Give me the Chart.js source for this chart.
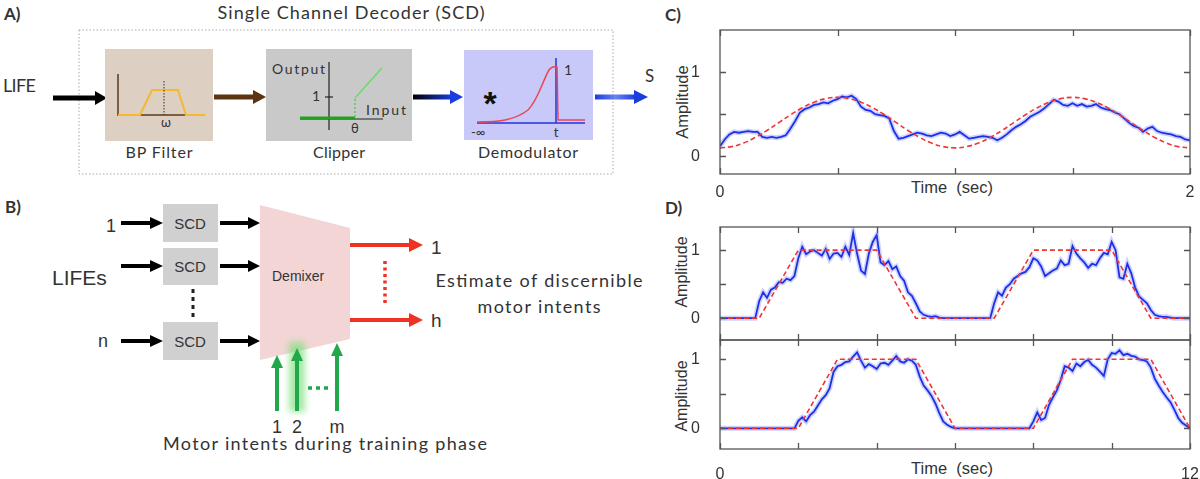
<!DOCTYPE html>
<html>
<head>
<meta charset="utf-8">
<script src="https://cdn.jsdelivr.net/npm/chart.js"></script>
<style>
  body { margin: 0; background: #fff; width: 1200px; height: 479px; overflow: hidden; position: relative; font-family: "Liberation Sans", Arial, sans-serif; }
  canvas { position: absolute; }
  .lbl { position: absolute; color: #333; white-space: nowrap; transform: translate(-50%, -50%); }
  .rot { transform: translate(-50%, -50%) rotate(-90deg); }
  svg text { fill: #333; }
</style>
</head>
<body>

<!-- Panels A and B: block diagrams -->
<svg width="660" height="479" style="position:absolute;left:0;top:0" font-family="Lato, sans-serif">
  <defs>
    <linearGradient id="blk2blu" gradientUnits="userSpaceOnUse" x1="413" y1="0" x2="452" y2="0"><stop offset="0" stop-color="#000"/><stop offset="1" stop-color="#1a3de0"/></linearGradient>
    <linearGradient id="bluOut" gradientUnits="userSpaceOnUse" x1="595" y1="0" x2="636" y2="0"><stop offset="0" stop-color="#1a3de0"/><stop offset="0.5" stop-color="#6a82f0"/><stop offset="1" stop-color="#1a3de0"/></linearGradient>
    <filter id="glow" x="-1" y="-1" width="3" height="3"><feGaussianBlur stdDeviation="3"/></filter>
  </defs>

  <text x="4" y="20" font-weight="bold" font-size="17">A)</text>
  <text x="351" y="19" text-anchor="middle" font-size="18" textLength="267">Single Channel Decoder (SCD)</text>
  <rect x="79" y="30" width="534" height="144" fill="none" stroke="#aaa" stroke-width="1" stroke-dasharray="1.5,2"/>

  <text x="3" y="92" font-size="18" textLength="33">LIFE</text>
  <line x1="53" y1="98" x2="97" y2="98" stroke="#000" stroke-width="5"/>
  <polygon points="95,91 107,98 95,105" fill="#000"/>

  <!-- BP filter -->
  <rect x="105" y="49" width="108" height="92" fill="#ddd0c3"/>
  <line x1="118" y1="74" x2="118" y2="116" stroke="#5a3a1a" stroke-width="1.5"/>
  <line x1="118" y1="115" x2="205" y2="115" stroke="#5a3a1a" stroke-width="1.5"/>
  <polyline points="118,115 140,115 152,90 178,90 186,115 205,115" fill="none" stroke="#f5b82e" stroke-width="2"/>
  <line x1="164" y1="81" x2="164" y2="115" stroke="#333" stroke-width="1" stroke-dasharray="1.5,1.5"/>
  <text x="166" y="127" text-anchor="middle" font-size="13">ω</text>
  <text x="159" y="158" text-anchor="middle" font-size="16" textLength="67">BP Filter</text>

  <line x1="214" y1="97" x2="255" y2="97" stroke="#5a3510" stroke-width="5"/>
  <polygon points="253,90 266,97 253,104" fill="#5a3510"/>

  <!-- Clipper -->
  <rect x="266" y="49" width="146" height="92" fill="#c9c9c9"/>
  <text x="272" y="74" font-size="14" textLength="53">Output</text>
  <line x1="329" y1="62" x2="329" y2="130" stroke="#222" stroke-width="1.2"/>
  <line x1="325" y1="97" x2="333" y2="97" stroke="#222" stroke-width="1.2"/>
  <text x="320" y="101" text-anchor="end" font-size="14">1</text>
  <line x1="300" y1="119" x2="383" y2="119" stroke="#222" stroke-width="1.2"/>
  <line x1="300" y1="118" x2="355" y2="118" stroke="#1fa31f" stroke-width="3"/>
  <line x1="355" y1="117" x2="355" y2="98" stroke="#55cc55" stroke-width="1.5" stroke-dasharray="2,2"/>
  <line x1="355" y1="98" x2="382" y2="68" stroke="#66dd66" stroke-width="1.5"/>
  <text x="366" y="115" font-size="14" textLength="40">Input</text>
  <text x="355" y="133" text-anchor="middle" font-size="13">θ</text>
  <text x="339" y="158" text-anchor="middle" font-size="16" textLength="52">Clipper</text>

  <line x1="413" y1="97" x2="452" y2="97" stroke="url(#blk2blu)" stroke-width="5"/>
  <polygon points="450,90 463,97 450,104" fill="#1a3de0"/>

  <!-- Demodulator -->
  <rect x="464" y="50" width="129" height="90" fill="#c8c9f9"/>
  <text x="490" y="115" text-anchor="middle" font-family="Liberation Sans, Arial, sans-serif" font-size="34" font-weight="bold" style="fill:#111">*</text>
  <line x1="477" y1="123" x2="585" y2="123" stroke="#2233dd" stroke-width="1.5"/>
  <line x1="556" y1="58" x2="556" y2="123" stroke="#2233dd" stroke-width="1.5"/>
  <path d="M477,122 C500,122 515,120 528,110 C538,100 543,80 549,70 C551,67 553,66 557,67 L558,120 L585,120" fill="none" stroke="#ee4455" stroke-width="1.5"/>
  <text x="564" y="75" font-size="14">1</text>
  <text x="471" y="137" font-size="13">-∞</text>
  <text x="556" y="137" text-anchor="middle" font-size="13">t</text>
  <text x="528" y="158" text-anchor="middle" font-size="16" textLength="100">Demodulator</text>

  <line x1="595" y1="97" x2="636" y2="97" stroke="url(#bluOut)" stroke-width="5"/>
  <polygon points="634,90 648,97 634,104" fill="#1a3de0"/>
  <text x="645" y="82" font-size="17">S</text>

  <!-- Panel B -->
  <text x="5" y="213" font-weight="bold" font-size="17">B)</text>
  <g font-family="Liberation Sans, Arial, sans-serif">
    <text x="116" y="232" text-anchor="end" font-size="18">1</text>
    <text x="52" y="285" font-size="21">LIFEs</text>
    <text x="108" y="347" text-anchor="end" font-size="18">n</text>

    <g fill="#000">
      <line x1="121" y1="223" x2="152" y2="223" stroke="#000" stroke-width="4"/>
      <polygon points="150,217 163,223 150,229"/>
      <line x1="121" y1="266" x2="152" y2="266" stroke="#000" stroke-width="4"/>
      <polygon points="150,260 163,266 150,272"/>
      <line x1="121" y1="341" x2="152" y2="341" stroke="#000" stroke-width="4"/>
      <polygon points="150,335 163,341 150,347"/>

      <line x1="220" y1="223" x2="250" y2="223" stroke="#000" stroke-width="4"/>
      <polygon points="248,217 260,223 248,229"/>
      <line x1="220" y1="266" x2="250" y2="266" stroke="#000" stroke-width="4"/>
      <polygon points="248,260 260,266 248,272"/>
      <line x1="220" y1="341" x2="250" y2="341" stroke="#000" stroke-width="4"/>
      <polygon points="248,335 260,341 248,347"/>
    </g>

    <rect x="163" y="204" width="55" height="38" fill="#d0d0d0"/>
    <rect x="163" y="248" width="55" height="37" fill="#d0d0d0"/>
    <rect x="163" y="322" width="55" height="38" fill="#d0d0d0"/>
    <text x="190" y="229" text-anchor="middle" font-size="15">SCD</text>
    <text x="190" y="272" text-anchor="middle" font-size="15">SCD</text>
    <text x="190" y="347" text-anchor="middle" font-size="15">SCD</text>
    <g fill="#222">
      <rect x="191.5" y="289" width="3" height="4"/>
      <rect x="191.5" y="297" width="3" height="4"/>
      <rect x="191.5" y="305" width="3" height="4"/>
      <rect x="191.5" y="313" width="3" height="4"/>
    </g>

    <polygon points="260,205 350,228 350,339 260,360" fill="#f3d5d5"/>
    <text x="272" y="281" font-size="14">Demixer</text>

    <!-- training inputs -->
    <rect x="289" y="342" width="16" height="70" fill="#7fe07f" opacity="0.7" filter="url(#glow)"/>
    <line x1="277" y1="411" x2="277" y2="366" stroke="#22a84a" stroke-width="4"/>
    <polygon points="271,368 277,355 283,368" fill="#22a84a"/>
    <line x1="297" y1="411" x2="297" y2="359" stroke="#22a84a" stroke-width="4"/>
    <polygon points="291,361 297,348 303,361" fill="#22a84a"/>
    <line x1="337" y1="411" x2="337" y2="354" stroke="#22a84a" stroke-width="4"/>
    <polygon points="331,356 337,343 343,356" fill="#22a84a"/>
    <line x1="308" y1="388" x2="328" y2="388" stroke="#22a84a" stroke-width="3.5" stroke-dasharray="4,4"/>
    <text x="277" y="433" text-anchor="middle" font-size="18">1</text>
    <text x="297" y="433" text-anchor="middle" font-size="18">2</text>
    <text x="337" y="433" text-anchor="middle" font-size="18">m</text>

    <!-- outputs -->
    <line x1="350" y1="245" x2="411" y2="245" stroke="#ee3322" stroke-width="4"/>
    <polygon points="409,238 423,245 409,252" fill="#ee3322"/>
    <line x1="350" y1="320" x2="411" y2="320" stroke="#ee3322" stroke-width="4"/>
    <polygon points="409,313 423,320 409,327" fill="#ee3322"/>
    <line x1="385" y1="261" x2="385" y2="304" stroke="#ee3322" stroke-width="3.5" stroke-dasharray="3,3.5"/>
    <text x="431" y="254" font-size="19">1</text>
    <text x="431" y="327" font-size="19">h</text>
  </g>
  <text x="539" y="287" text-anchor="middle" font-size="18" textLength="207">Estimate of discernible</text>
  <text x="539" y="313" text-anchor="middle" font-size="18" textLength="123">motor  intents</text>
  <text x="163" y="450" font-size="18" textLength="324">Motor intents during training phase</text>
</svg>

<!-- Panel letters and axis titles for C and D -->
<svg width="60" height="230" style="position:absolute;left:660px;top:0" font-family="Lato, sans-serif">
  <text x="5" y="21" font-weight="bold" font-size="17" fill="#333">C)</text>
  <text x="5" y="214" font-weight="bold" font-size="17" fill="#333">D)</text>
</svg>
<div class="lbl rot" style="left:682px;top:102px;font-size:16.5px">Amplitude</div>
<div class="lbl" style="left:952px;top:187px;font-size:16.5px">Time&nbsp;&nbsp;(sec)</div>
<div class="lbl rot" style="left:682px;top:272px;font-size:16px">Amplitude</div>
<div class="lbl rot" style="left:682px;top:396px;font-size:16px">Amplitude</div>
<div class="lbl" style="left:952px;top:468px;font-size:16.5px">Time&nbsp;&nbsp;(sec)</div>

<canvas id="chartC" width="540" height="179" style="left:660px;top:20px"></canvas>
<canvas id="chartD1" width="540" height="126" style="left:660px;top:217px"></canvas>
<canvas id="chartD2" width="540" height="149" style="left:660px;top:330px"></canvas>

<script>
// ---- C) decoded sinusoidal intent, 0..2 s ----
const cStep = 0.02;
const cBlue = [
  0.12, 0.20, 0.26, 0.29, 0.28, 0.29, 0.30, 0.29, 0.29, 0.23,
  0.22, 0.23, 0.22, 0.23, 0.25, 0.33, 0.42, 0.52, 0.56, 0.58,
  0.61, 0.62, 0.64, 0.63, 0.66, 0.68, 0.71, 0.70, 0.72, 0.68,
  0.59, 0.55, 0.54, 0.50, 0.49, 0.48, 0.45, 0.30, 0.21, 0.22,
  0.24, 0.26, 0.28, 0.27, 0.25, 0.24, 0.26, 0.28, 0.27, 0.24,
  0.26, 0.29, 0.25, 0.21, 0.22, 0.23, 0.24, 0.23, 0.22, 0.19,
  0.22, 0.26, 0.31, 0.35, 0.38, 0.42, 0.47, 0.50, 0.53, 0.57,
  0.62, 0.67, 0.65, 0.61, 0.60, 0.63, 0.60, 0.62, 0.59, 0.60,
  0.62, 0.58, 0.56, 0.55, 0.52, 0.50, 0.45, 0.40, 0.36, 0.34,
  0.29, 0.33, 0.35, 0.30, 0.28, 0.27, 0.26, 0.24, 0.23, 0.20,
  0.19
];
const cRedStep = 0.05;
const cRed = [
  0.100, 0.115, 0.157, 0.224, 0.307, 0.400, 0.493, 0.576, 0.643, 0.685,
  0.700, 0.685, 0.643, 0.576, 0.493, 0.400, 0.307, 0.224, 0.157, 0.115,
  0.100, 0.115, 0.157, 0.224, 0.307, 0.400, 0.493, 0.576, 0.643, 0.685,
  0.700, 0.685, 0.643, 0.576, 0.493, 0.400, 0.307, 0.224, 0.157, 0.115,
  0.100
];
const cXTicks = [0, 0.5, 1, 1.5, 2];
const cXLabels = [0, 2];
const cYTicks = [0, 0.5, 1];
const cYLabels = [0, 1];

// ---- D) decoded trapezoid intents, 0..12 s ----
const dStep = 0.1;
const d1Blue = [
  0, 0, 0, 0, 0, 0, 0, 0, 0, 0,
  0.25, 0.38, 0.30, 0.42, 0.45, 0.53, 0.52, 0.58, 0.56, 0.62,
  0.88, 1.05, 0.94, 0.98, 1.00, 0.96, 0.92, 1.02, 0.87, 0.95,
  0.96, 0.90, 1.05, 0.93, 1.25, 0.95, 0.70, 0.65, 0.95, 1.12,
  1.22, 0.82, 0.78, 0.84, 0.72, 0.76, 0.62, 0.55, 0.38, 0.33,
  0.22, 0.10, 0.05, 0.03, 0.02, 0.03, 0.01, 0, 0, 0,
  0, 0, 0, 0, 0, 0, 0, 0, 0, 0,
  0.22, 0.38, 0.33, 0.45, 0.50, 0.58, 0.62, 0.66, 0.68, 0.75,
  0.88, 0.85, 0.76, 0.62, 0.66, 0.70, 0.73, 0.85, 0.78, 0.80,
  1.06, 0.95, 0.88, 0.82, 0.74, 0.80, 0.78, 0.88, 0.96, 0.94,
  1.12, 1.00, 0.60, 0.58, 0.80, 0.66, 0.45, 0.32, 0.27, 0.22,
  0.12, 0.05, 0.03, 0.02, 0.02, 0.01, 0, 0, 0, 0,
  0
];
const d1RedTime = [0, 1, 2, 4, 5, 7, 8, 10, 11, 12];
const d1Red = [0, 0, 1, 1, 0, 0, 1, 1, 0, 0];

const d2Blue = [
  0, 0, 0, 0, 0, 0, 0, 0, 0, 0,
  0, 0, 0, 0, 0, 0, 0, 0, 0, 0,
  0.11, 0.16, 0.10, 0.19, 0.24, 0.33, 0.42, 0.48, 0.58, 0.82,
  0.90, 0.92, 0.96, 0.97, 1.04, 1.10, 0.98, 0.88, 0.93, 0.90,
  0.86, 0.94, 0.95, 0.92, 0.98, 1.05, 0.97, 0.95, 1.00, 0.98,
  0.92, 0.75, 0.62, 0.55, 0.47, 0.36, 0.22, 0.10, 0.05, 0.02,
  0, 0, 0, 0, 0, 0, 0, 0, 0, 0,
  0, 0, 0, 0, 0, 0, 0, 0, 0, 0,
  0.10, 0.23, 0.12, 0.15, 0.34, 0.45, 0.55, 0.70, 0.90, 0.88,
  0.83, 0.94, 0.90, 0.96, 0.99, 0.92, 0.88, 0.82, 0.76, 1.00,
  1.09, 1.08, 1.13, 1.06, 1.08, 1.05, 1.04, 1.00, 0.99, 0.97,
  0.88, 0.72, 0.62, 0.53, 0.45, 0.38, 0.27, 0.15, 0.08, 0.04,
  0
];
const d2RedTime = [0, 2, 3, 5, 6, 8, 9, 11, 12];
const d2Red = [0, 0, 1, 1, 0, 0, 1, 1, 0];

const dXTicks = [0, 2, 4, 6, 8, 10, 12];
const dXLabels = [0, 12];
const dYTicks = [0, 0.5, 1];
const dYLabels = [0, 1];

const BLUE = '#1f2fe8';
const HALO = 'rgba(110,130,255,0.35)';
const RED = '#f03535';

// box around the plot with inward tick marks on all four sides
const frameTicks = {
  id: 'frameTicks',
  afterDatasetsDraw(chart, args, opts) {
    const { ctx, chartArea: a, scales: { x, y } } = chart;
    ctx.save();
    ctx.strokeStyle = '#555';
    ctx.lineWidth = 1.3;
    ctx.strokeRect(a.left, a.top, a.right - a.left, a.bottom - a.top);
    ctx.beginPath();
    opts.xTicks.forEach(v => {
      const px = Math.round(x.getPixelForValue(v)) + 0.5;
      ctx.moveTo(px, a.top); ctx.lineTo(px, a.top + 6);
      ctx.moveTo(px, a.bottom); ctx.lineTo(px, a.bottom - 6);
    });
    opts.yTicks.forEach(v => {
      const py = Math.round(y.getPixelForValue(v)) + 0.5;
      ctx.moveTo(a.left, py); ctx.lineTo(a.left + 6, py);
      ctx.moveTo(a.right, py); ctx.lineTo(a.right - 6, py);
    });
    ctx.stroke();
    ctx.restore();
  }
};

function toPoints(times, values) {
  return values.map((v, i) => ({ x: times[i], y: v }));
}

function stepPoints(step, values) {
  return values.map((v, i) => ({ x: +(i * step).toFixed(3), y: v }));
}

// keep tick labels from adding their own padding, so layout.padding sets the plot box
function noLabelPadding(s) {
  s.paddingTop = 0; s.paddingBottom = 0; s.paddingLeft = 0; s.paddingRight = 0;
}

function makeChart(id, cfg) {
  const tickFont = { family: '"Liberation Sans", Arial, sans-serif', size: 16 };
  return new Chart(document.getElementById(id), {
    type: 'line',
    data: {
      datasets: [
        { data: cfg.red, borderColor: RED, borderWidth: 1.6, borderDash: [5, 3], pointRadius: 0, tension: cfg.redTension, order: 0 },
        { data: cfg.blue, borderColor: BLUE, borderWidth: 1.8, pointRadius: 0, tension: 0, order: 1 },
        { data: cfg.blue, borderColor: HALO, borderWidth: 5, pointRadius: 0, tension: 0, order: 2 }
      ]
    },
    options: {
      responsive: false,
      animation: false,
      events: [],
      layout: { padding: { top: 10, right: 10, left: 0, bottom: 0 } },
      plugins: {
        legend: { display: false },
        tooltip: { enabled: false },
        frameTicks: { xTicks: cfg.xTicks, yTicks: cfg.yTicks }
      },
      scales: {
        x: {
          type: 'linear',
          min: cfg.xTicks[0],
          max: cfg.xTicks[cfg.xTicks.length - 1],
          grid: { display: false },
          border: { display: false },
          afterBuildTicks: s => { s.ticks = cfg.xTicks.map(v => ({ value: v })); },
          afterFit: s => { s.height = cfg.xHeight; noLabelPadding(s); },
          ticks: {
            display: cfg.xLabels.length > 0,
            autoSkip: false,
            maxRotation: 0,
            padding: cfg.xPad,
            color: '#333',
            font: tickFont,
            callback: v => cfg.xLabels.includes(v) ? String(v) : ''
          }
        },
        y: {
          min: cfg.yMin,
          max: cfg.yMax,
          grid: { display: false },
          border: { display: false },
          afterBuildTicks: s => { s.ticks = cfg.yTicks.map(v => ({ value: v })); },
          afterFit: s => { s.width = 60; noLabelPadding(s); },
          ticks: {
            padding: 12,
            color: '#333',
            font: tickFont,
            callback: v => cfg.yLabels.includes(v) ? String(v) : ''
          }
        }
      }
    },
    plugins: [frameTicks]
  });
}

makeChart('chartC', {
  blue: stepPoints(cStep, cBlue),
  red: stepPoints(cRedStep, cRed),
  redTension: 0.4,
  xTicks: cXTicks, xLabels: cXLabels, yTicks: cYTicks, yLabels: cYLabels,
  yMin: -0.21, yMax: 1.5, xHeight: 25, xPad: 1
});

makeChart('chartD1', {
  blue: stepPoints(dStep, d1Blue),
  red: toPoints(d1RedTime, d1Red),
  redTension: 0,
  xTicks: dXTicks, xLabels: [], yTicks: dYTicks, yLabels: dYLabels,
  yMin: -0.32, yMax: 1.34, xHeight: 3, xPad: 0
});

makeChart('chartD2', {
  blue: stepPoints(dStep, d2Blue),
  red: toPoints(d2RedTime, d2Red),
  redTension: 0,
  xTicks: dXTicks, xLabels: dXLabels, yTicks: dYTicks, yLabels: dYLabels,
  yMin: -0.30, yMax: 1.28, xHeight: 30, xPad: 8
});
</script>
</body>
</html>
